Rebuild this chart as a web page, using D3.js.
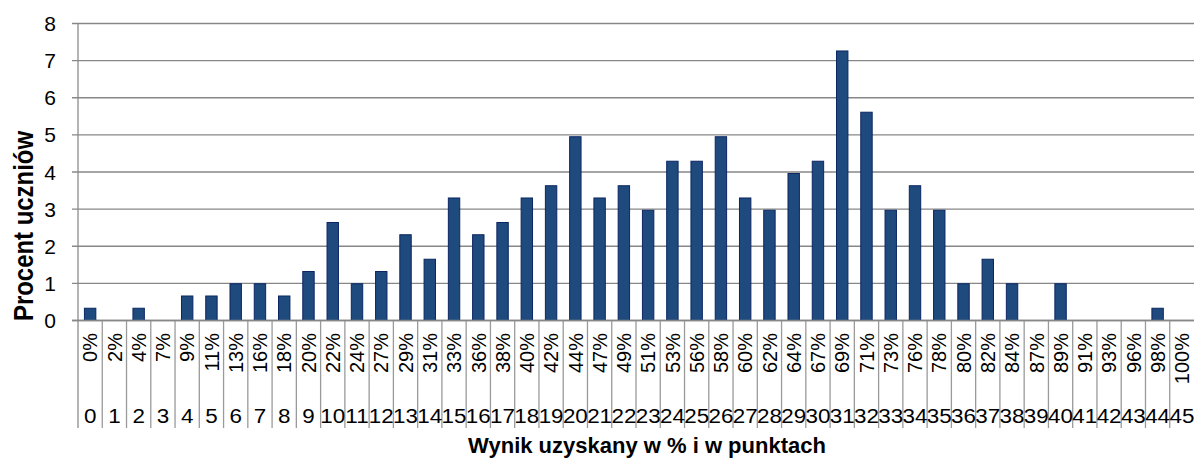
<!DOCTYPE html>
<html>
<head>
    <meta charset="utf-8">
    <script src="https://d3js.org/d3.v7.min.js"></script>
    <style>
        body { margin: 0; background: #fff; }
        text { font-family: "Liberation Sans", Arial, sans-serif; fill: #000; }
    </style>
</head>
<body>
<div id="chart"></div>
<script>
    // punkty (kategorie), procenty i wartości
    var points = d3.range(0, 46).map(String);
    var percents = ["0%", "2%", "4%", "7%", "9%", "11%", "13%", "16%", "18%", "20%",
        "22%", "24%", "27%", "29%", "31%", "33%", "36%", "38%", "40%", "42%",
        "44%", "47%", "49%", "51%", "53%", "56%", "58%", "60%", "62%", "64%",
        "67%", "69%", "71%", "73%", "76%", "78%", "80%", "82%", "84%", "87%",
        "89%", "91%", "93%", "96%", "98%", "100%"];
    var values = [0.33, 0, 0.33, 0, 0.66, 0.66, 0.99, 0.99, 0.66, 1.32,
        2.64, 0.99, 1.32, 2.31, 1.65, 3.3, 2.31, 2.64, 3.3, 3.63,
        4.95, 3.3, 3.63, 2.97, 4.29, 4.29, 4.95, 3.3, 2.97, 3.96,
        4.29, 7.26, 5.61, 2.97, 3.63, 2.97, 0.99, 1.65, 0.99, 0,
        0.99, 0, 0, 0, 0.33, 0];
    var yTicks = [0, 1, 2, 3, 4, 5, 6, 7, 8];

    // plot area
    var W = 1194, H = 459;
    var plotLeft = 78, plotRight = 1194, plotTop = 23.5, plotBottom = 320.5;

    var svg = d3.select("#chart").append("svg")
        .attr("width", W).attr("height", H);

    var x = d3.scaleBand().domain(points).range([plotLeft, plotRight]).padding(0);
    var y = d3.scaleLinear().domain([0, 8]).range([plotBottom, plotTop]);
    var bw = x.bandwidth();

    // gridlines
    svg.append("g").selectAll("line").data(yTicks).enter().append("line")
        .attr("x1", plotLeft - 6).attr("x2", plotRight)
        .attr("y1", function (d) { return y(d); })
        .attr("y2", function (d) { return y(d); })
        .style("stroke", "#878787").style("stroke-width", 1.4);

    // y axis line
    svg.append("line")
        .attr("x1", plotLeft).attr("x2", plotLeft).attr("y1", plotTop).attr("y2", 428)
        .style("stroke", "#8c8c8c").style("stroke-width", 1.3);

    // y tick labels
    svg.append("g").selectAll("text").data(yTicks).enter().append("text")
        .attr("x", 56).attr("y", function (d) { return y(d); })
        .attr("dy", "0.36em")
        .attr("text-anchor", "end")
        .style("font-size", "21px")
        .text(function (d) { return d; });

    // category dividers (two-level axis)
    svg.append("g").selectAll("line").data(points.slice(1)).enter().append("line")
        .attr("x1", function (d) { return x(d); })
        .attr("x2", function (d) { return x(d); })
        .attr("y1", plotBottom).attr("y2", 428)
        .style("stroke", "#9a9a9a").style("stroke-width", 1.3);

    // bars
    svg.append("g").selectAll("rect").data(values.map(function (v, i) { return { k: points[i], v: v }; })
        .filter(function (d) { return d.v > 0; }))
        .enter().append("rect")
        .attr("x", function (d) { return x(d.k) + bw * 0.265; })
        .attr("width", bw * 0.47)
        .attr("y", function (d) { return y(d.v); })
        .attr("height", function (d) { return plotBottom - y(d.v); })
        .style("fill", "#1f4a7e")
        .style("stroke", "#0b2663")
        .style("stroke-width", 1);

    // x axis line
    svg.append("line")
        .attr("x1", plotLeft - 6).attr("x2", plotRight).attr("y1", plotBottom).attr("y2", plotBottom)
        .style("stroke", "#878787").style("stroke-width", 1.4);

    // percent labels (rotated)
    svg.append("g").selectAll("text").data(points).enter().append("text")
        .attr("transform", function (d) { return "translate(" + (x(d) + bw / 2) + ",333) rotate(-90)"; })
        .attr("dy", "0.36em")
        .attr("text-anchor", "end")
        .style("font-size", "20px")
        .text(function (d, i) { return percents[i]; });

    // point labels
    svg.append("g").selectAll("text").data(points).enter().append("text")
        .attr("transform", function (d) { return "translate(" + (x(d) + bw / 2) + ",423) scale(1.15,1)"; })
        .attr("text-anchor", "middle")
        .style("font-size", "19.5px")
        .text(function (d) { return d; });

    // axis titles
    svg.append("text")
        .attr("x", 647).attr("y", 453)
        .attr("text-anchor", "middle")
        .style("font-size", "22px").style("font-weight", "bold")
        .text("Wynik uzyskany w % i w punktach");

    svg.append("text")
        .attr("transform", "translate(33,226) rotate(-90)")
        .attr("text-anchor", "middle")
        .attr("textLength", 190)
        .attr("lengthAdjust", "spacingAndGlyphs")
        .style("font-size", "27px").style("font-weight", "bold")
        .text("Procent uczniów");
</script>
</body>
</html>
